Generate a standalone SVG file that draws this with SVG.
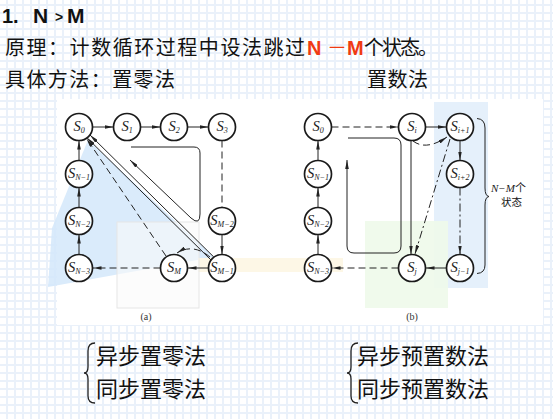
<svg xmlns="http://www.w3.org/2000/svg" width="553" height="419" viewBox="0 0 553 419">
<defs>
<pattern id="grid" x="6.5" y="4.5" width="8" height="8" patternUnits="userSpaceOnUse">
<path d="M0,0.5 H8 M0.5,0 V8" stroke="#a9c8ea" stroke-width="1" stroke-dasharray="1 1" fill="none"/>
</pattern>
<marker id="ah" viewBox="0 0 10 4" refX="10" refY="2" markerWidth="9" markerHeight="3.6" markerUnits="userSpaceOnUse" orient="auto"><path d="M0,0 L10,2 L0,4 z" fill="#222"/></marker>
<style>
.cjk{font-family:"Noto Sans CJK SC","Noto Sans",sans-serif;fill:#111}
.node circle{fill:#fff;stroke:#1a1a1a;stroke-width:1.7}
.node text{font-family:"Liberation Serif",serif;font-style:italic;font-size:14.5px;fill:#222;text-anchor:middle}
.sub{font-size:8px}
.e{stroke:#222;stroke-width:1;fill:none}
.a{marker-end:url(#ah)}
.d{stroke-dasharray:7 4}
.dd{stroke-dasharray:8 3 2 3}
</style>
</defs>
<rect width="553" height="419" fill="#fff"/>
<rect width="553" height="419" fill="url(#grid)"/>
<rect x="57" y="99" width="486" height="226" fill="#fff"/>

<!-- shading -->
<polygon points="88,140 214,257 48,287 52,228" fill="#d4e7fa" opacity="0.85"/>
<rect x="198" y="258" width="145" height="14" fill="#fdf7e6"/>
<rect x="117" y="222" width="82" height="86" fill="#fafafa" fill-opacity="0.6" stroke="#e6e6e6"/>
<rect x="434" y="102" width="54" height="186" fill="#e2eefb" opacity="0.9"/>
<rect x="365" y="221" width="83" height="87" fill="#eef9ea" opacity="0.9"/>

<text x="2" y="23" font-family="'Liberation Sans',sans-serif" font-weight="bold" font-size="20" fill="#111">1.</text>
<text x="33" y="23" font-family="'Liberation Sans',sans-serif" font-weight="bold" font-size="21" fill="#111">N</text>
<text x="55" y="22" font-family="'Liberation Sans',sans-serif" font-weight="bold" font-size="14" fill="#111">&gt;</text>
<text x="67" y="23" font-family="'Liberation Sans',sans-serif" font-weight="bold" font-size="21" fill="#111">M</text>

<text class="cjk" x="5" y="55" font-size="20" textLength="300" lengthAdjust="spacing">原理：计数循环过程中设法跳过</text>
<text x="307" y="55" font-family="'Liberation Sans',sans-serif" font-weight="bold" font-size="20" fill="#f03a12">N</text>
<text class="cjk" x="327" y="55" font-size="20" style="fill:#f03a12">－</text>
<text x="347" y="55" font-family="'Liberation Sans',sans-serif" font-weight="bold" font-size="20" fill="#f03a12">M</text>
<text class="cjk" x="364" y="55" font-size="20" textLength="74" lengthAdjust="spacing">个状态。</text>
<text class="cjk" x="5" y="87" font-size="20" textLength="170" lengthAdjust="spacing">具体方法：置零法</text>
<text class="cjk" x="367" y="87" font-size="20" textLength="61" lengthAdjust="spacing">置数法</text>

<g id="connectors">
<!-- left -->
<line class="e a" x1="92.5" y1="127" x2="113.5" y2="127"/>
<line class="e a" x1="140.5" y1="127" x2="160.5" y2="127"/>
<line class="e a" x1="187.5" y1="127" x2="208.5" y2="127"/>
<line class="e d" x1="222" y1="140.5" x2="222" y2="207.5"/>
<line class="e a" x1="222" y1="234.5" x2="222" y2="254.5"/>
<line class="e a" x1="208.5" y1="268" x2="187.5" y2="268"/>
<line class="e d a" x1="160.5" y1="268" x2="92.5" y2="268"/>
<line class="e a" x1="79" y1="254.5" x2="79" y2="234.5"/>
<line class="e a" x1="79" y1="207.5" x2="79" y2="187.5"/>
<line class="e a" x1="79" y1="160.5" x2="79" y2="140.5"/>
<line class="e d a" x1="166" y1="256" x2="86.5" y2="138.5"/>
<line class="e a" x1="213.8" y1="257" x2="90" y2="135"/>
<line class="e a" x1="211" y1="260" x2="87.2" y2="138"/>
<path class="e d a" d="M210,257 Q193,243 177,253"/>
<path class="e a" d="M131,147 H194 Q200,147 200,153 V214 Q200,226 191,218 L130,160"/>
<!-- right -->
<line class="e d a" x1="331.5" y1="127" x2="398.5" y2="127"/>
<line class="e a" x1="425.5" y1="127" x2="446.5" y2="127"/>
<line class="e a" x1="460" y1="140.5" x2="460" y2="160.5"/>
<line class="e dd a" x1="460" y1="187.5" x2="460" y2="254.5"/>
<line class="e a" x1="446.5" y1="268" x2="425.5" y2="268"/>
<line class="e d a" x1="398.5" y1="268" x2="331.5" y2="268"/>
<line class="e a" x1="318" y1="254.5" x2="318" y2="234.5"/>
<line class="e a" x1="318" y1="207.5" x2="318" y2="187.5"/>
<line class="e a" x1="318" y1="160.5" x2="318" y2="140.5"/>
<line class="e a" x1="411" y1="140.5" x2="411" y2="254.5"/>
<line class="e dd a" x1="450" y1="139" x2="415" y2="254"/>
<path class="e d a" d="M413,141 Q426,151 447,137"/>
<path class="e a" d="M348,138 H394 Q401,138 401,145 V246 Q401,253 394,253 H354 Q347,253 347,246 V160"/>
<path class="e" d="M477,118.5 Q485,119 485,128 V188 Q485,196 489,196.5 Q485,197 485,205 V265 Q485,273 477,273.5"/>
</g>

<g id="s0a" class="node"><circle cx="79" cy="127" r="13.5"/><text x="79" y="131">S<tspan class="sub" dy="2">0</tspan></text></g>
<g id="s1a" class="node"><circle cx="127" cy="127" r="13.5"/><text x="127" y="131">S<tspan class="sub" dy="2">1</tspan></text></g>
<g id="s2a" class="node"><circle cx="174" cy="127" r="13.5"/><text x="174" y="131">S<tspan class="sub" dy="2">2</tspan></text></g>
<g id="s3a" class="node"><circle cx="222" cy="127" r="13.5"/><text x="222" y="131">S<tspan class="sub" dy="2">3</tspan></text></g>
<g id="sn1a" class="node"><circle cx="79" cy="174" r="13.5"/><text x="79" y="178">S<tspan class="sub" dy="2">N−1</tspan></text></g>
<g id="sn2a" class="node"><circle cx="79" cy="221" r="13.5"/><text x="79" y="225">S<tspan class="sub" dy="2">N−2</tspan></text></g>
<g id="sn3a" class="node"><circle cx="79" cy="268" r="13.5"/><text x="79" y="272">S<tspan class="sub" dy="2">N−3</tspan></text></g>
<g id="sma" class="node"><circle cx="174" cy="268" r="13.5"/><text x="174" y="272">S<tspan class="sub" dy="2">M</tspan></text></g>
<g id="sm1a" class="node"><circle cx="222" cy="268" r="13.5"/><text x="222" y="272">S<tspan class="sub" dy="2">M−1</tspan></text></g>
<g id="sm2a" class="node"><circle cx="222" cy="221" r="13.5"/><text x="222" y="225">S<tspan class="sub" dy="2">M−2</tspan></text></g>

<g id="s0b" class="node"><circle cx="318" cy="127" r="13.5"/><text x="318" y="131">S<tspan class="sub" dy="2">0</tspan></text></g>
<g id="sib" class="node"><circle cx="412" cy="127" r="13.5"/><text x="412" y="131">S<tspan class="sub" dy="2">i</tspan></text></g>
<g id="si1b" class="node"><circle cx="460" cy="127" r="13.5"/><text x="460" y="131">S<tspan class="sub" dy="2">i+1</tspan></text></g>
<g id="si2b" class="node"><circle cx="460" cy="174" r="13.5"/><text x="460" y="178">S<tspan class="sub" dy="2">i+2</tspan></text></g>
<g id="sj1b" class="node"><circle cx="460" cy="268" r="13.5"/><text x="460" y="272">S<tspan class="sub" dy="2">j−1</tspan></text></g>
<g id="sjb" class="node"><circle cx="412" cy="268" r="13.5"/><text x="412" y="272">S<tspan class="sub" dy="2">j</tspan></text></g>
<g id="sn3b" class="node"><circle cx="318" cy="268" r="13.5"/><text x="318" y="272">S<tspan class="sub" dy="2">N−3</tspan></text></g>
<g id="sn2b" class="node"><circle cx="318" cy="221" r="13.5"/><text x="318" y="225">S<tspan class="sub" dy="2">N−2</tspan></text></g>
<g id="sn1b" class="node"><circle cx="318" cy="174" r="13.5"/><text x="318" y="178">S<tspan class="sub" dy="2">N−1</tspan></text></g>

<g id="brace-label">
<text x="491" y="192" font-family="'Liberation Serif',serif" font-style="italic" font-size="11" fill="#222">N−M<tspan font-style="normal" font-family="'Noto Sans CJK SC',sans-serif">个</tspan></text>
<text class="cjk" x="501" y="206" font-size="10.5">状态</text>
</g>
<text x="146" y="320" font-family="'Liberation Serif',serif" font-size="10" fill="#333" text-anchor="middle">(a)</text>
<text x="412" y="320" font-family="'Liberation Serif',serif" font-size="10" fill="#333" text-anchor="middle">(b)</text>

<path d="M95,343 Q88,343 88,351 V367 Q88,373 84,373 Q88,373 88,379 V396 Q88,403 95,403" fill="none" stroke="#222" stroke-width="1.3"/>
<text class="cjk" x="96" y="364" font-size="22">异步置零法</text>
<text class="cjk" x="96" y="397" font-size="22">同步置零法</text>
<path d="M358,343 Q351,343 351,351 V367 Q351,373 347,373 Q351,373 351,379 V396 Q351,403 358,403" fill="none" stroke="#222" stroke-width="1.3"/>
<text class="cjk" x="357" y="364" font-size="22">异步预置数法</text>
<text class="cjk" x="357" y="397" font-size="22">同步预置数法</text>
</svg>
